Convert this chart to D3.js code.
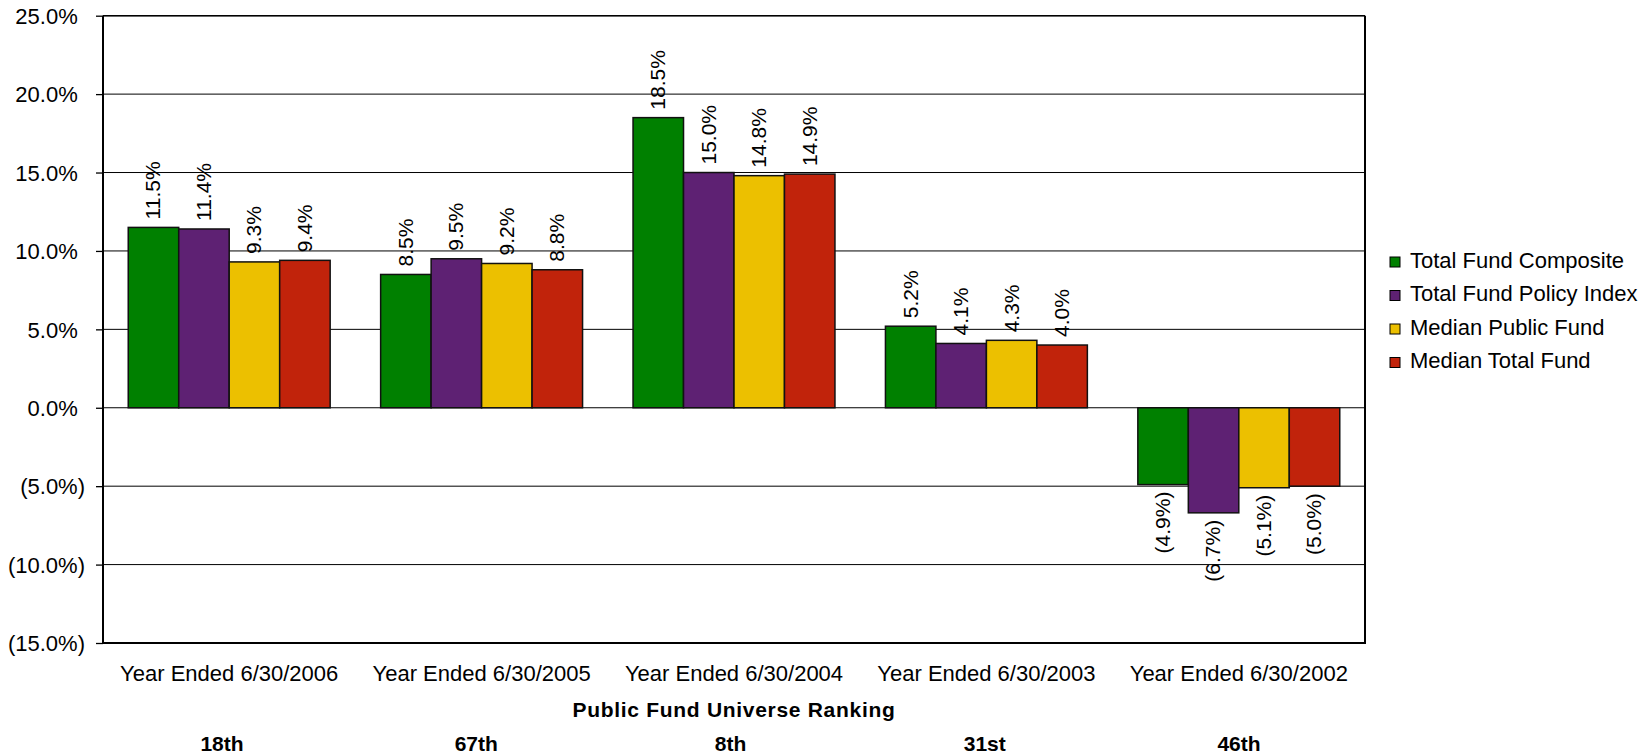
<!DOCTYPE html>
<html>
<head>
<meta charset="utf-8">
<script src="https://cdn.jsdelivr.net/npm/d3@7/dist/d3.min.js"></script>
<style>
  html, body { margin: 0; padding: 0; background: #fff; }
  svg { display: block; font-family: "Liberation Sans", Arial, sans-serif; }
</style>
</head>
<body>
<svg id="chart" width="1650" height="755"></svg>
<script>
const categories = ["Year Ended 6/30/2006", "Year Ended 6/30/2005", "Year Ended 6/30/2004", "Year Ended 6/30/2003", "Year Ended 6/30/2002"];
const rankings = ["18th", "67th", "8th", "31st", "46th"];
const seriesNames = ["Total Fund Composite", "Total Fund Policy Index", "Median Public Fund", "Median Total Fund"];
const totalFundComposite = [11.5, 8.5, 18.5, 5.2, -4.9];
const totalFundPolicyIndex = [11.4, 9.5, 15.0, 4.1, -6.7];
const medianPublicFund = [9.3, 9.2, 14.8, 4.3, -5.1];
const medianTotalFund = [9.4, 8.8, 14.9, 4.0, -5.0];
const yTicks = [-15, -10, -5, 0, 5, 10, 15, 20, 25];
const yTickLabels = ["(15.0%)", "(10.0%)", "(5.0%)", "0.0%", "5.0%", "10.0%", "15.0%", "20.0%", "25.0%"];
const axisTitle = "Public Fund Universe Ranking";

const series = [totalFundComposite, totalFundPolicyIndex, medianPublicFund, medianTotalFund];
const colors = ["#008000", "#5E2173", "#ECC000", "#C1230B"];

const svg = d3.select("#chart");
const pLeft = 103, pRight = 1365, pTop = 15.7, pBottom = 643;

const x0 = d3.scaleBand().domain(categories).range([pLeft, pRight]).paddingInner(0.2).paddingOuter(0.1);
const x1 = d3.scaleBand().domain(d3.range(series.length)).range([0, x0.bandwidth()]);
const y = d3.scaleLinear().domain([-15, 25]).range([pBottom, pTop]);
const rankX = d3.scalePoint().domain(rankings).range([222, 1239]);

const fmt = v => v < 0 ? "(" + Math.abs(v).toFixed(1) + "%)" : v.toFixed(1) + "%";

// gridlines
svg.append("g").selectAll("line").data(yTicks).join("line")
  .attr("x1", pLeft).attr("x2", pRight)
  .attr("y1", d => y(d)).attr("y2", d => y(d))
  .attr("stroke", "#000").attr("stroke-width", 1);

// y axis
const yAxis = d3.axisLeft(y).tickValues(yTicks).tickSize(7).tickFormat((d, i) => yTickLabels[i]);
const ya = svg.append("g").attr("transform", `translate(${pLeft},0)`).call(yAxis);
ya.select(".domain").remove();
ya.selectAll(".tick line").attr("stroke", "#000").attr("stroke-width", 1.3);
ya.selectAll(".tick text")
  .attr("font-size", 22).attr("fill", "#000")
  .attr("font-family", "'Liberation Sans', Arial, sans-serif")
  .attr("x", (d, i) => yTickLabels[i].startsWith("(") ? -18 : -25.3)
  .attr("dy", "0.35em");

// bars
const groups = svg.append("g").selectAll("g").data(categories).join("g")
  .attr("transform", d => `translate(${x0(d)},0)`);
groups.each(function(cat, ci) {
  const g = d3.select(this);
  series.forEach((s, si) => {
    const v = s[ci];
    g.append("rect")
      .attr("x", x1(si)).attr("width", x1.bandwidth())
      .attr("y", y(Math.max(0, v))).attr("height", Math.abs(y(v) - y(0)))
      .attr("fill", colors[si]).attr("stroke", "#111").attr("stroke-width", 1.5);
    const cx = x1(si) + x1.bandwidth() / 2;
    const ly = v >= 0 ? y(v) - 8 : y(v) + 7;
    g.append("text")
      .attr("transform", `translate(${cx},${ly}) rotate(-90)`)
      .attr("text-anchor", v >= 0 ? "start" : "end")
      .attr("dy", "0.33em")
      .attr("font-size", 21).attr("fill", "#000")
      .text(fmt(v));
  });
});

// frame
svg.append("line").attr("x1", pLeft).attr("x2", pLeft).attr("y1", pTop).attr("y2", pBottom + 1).attr("stroke", "#000").attr("stroke-width", 2);
svg.append("line").attr("x1", pLeft - 1).attr("x2", pRight + 1).attr("y1", pBottom).attr("y2", pBottom).attr("stroke", "#000").attr("stroke-width", 2);
svg.append("line").attr("x1", pRight).attr("x2", pRight).attr("y1", pTop).attr("y2", pBottom).attr("stroke", "#000").attr("stroke-width", 2);
svg.append("line").attr("x1", pLeft).attr("x2", pRight).attr("y1", pTop).attr("y2", pTop).attr("stroke", "#000").attr("stroke-width", 1.5);

// x axis labels
const xAxis = d3.axisBottom(x0).tickSize(0).tickPadding(0);
const xa = svg.append("g").attr("transform", `translate(0,${pBottom})`).call(xAxis);
xa.select(".domain").remove();
xa.selectAll(".tick text")
  .attr("font-size", 22).attr("fill", "#000")
  .attr("font-family", "'Liberation Sans', Arial, sans-serif")
  .attr("y", 37.5).attr("dy", 0);

// axis title
svg.append("text").attr("x", (pLeft + pRight) / 2).attr("y", 717)
  .attr("text-anchor", "middle").attr("font-size", 21).attr("font-weight", "bold")
  .attr("letter-spacing", 0.7).text(axisTitle);

// rankings
svg.append("g").selectAll("text").data(rankings).join("text")
  .attr("x", d => rankX(d)).attr("y", 751)
  .attr("text-anchor", "middle").attr("font-size", 21).attr("font-weight", "bold")
  .text(d => d);

// legend
const legend = svg.append("g").selectAll("g").data(seriesNames).join("g")
  .attr("transform", (d, i) => `translate(1390,${257 + i * 33.5})`);
legend.append("rect").attr("width", 10).attr("height", 10)
  .attr("fill", (d, i) => colors[i]).attr("stroke", "#000").attr("stroke-width", 1);
legend.append("text").attr("x", 20).attr("y", 10.5).attr("font-size", 22).attr("fill", "#000").text(d => d);
</script>
</body>
</html>
